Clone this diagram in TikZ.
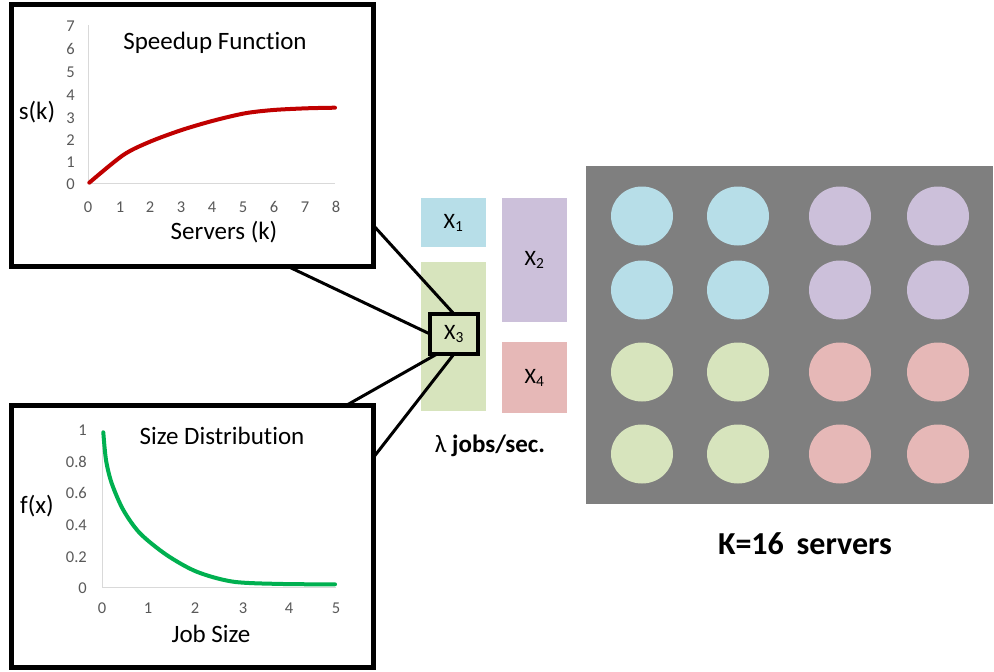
\documentclass[tikz,border=0pt]{standalone}
\usepackage{fontspec}
\setmainfont[Ligatures=NoCommon]{Carlito}
\usetikzlibrary{shapes.geometric}
\definecolor{cblue}{RGB}{183,222,232}
\definecolor{cgreen}{RGB}{215,228,189}
\definecolor{cpurple}{RGB}{204,192,218}
\definecolor{cpink}{RGB}{230,184,183}
\definecolor{cgray}{RGB}{127,127,127}
\definecolor{axisgray}{RGB}{217,217,217}
\definecolor{ticktext}{RGB}{89,89,89}
\definecolor{cred}{RGB}{192,0,0}
\definecolor{cgreenline}{RGB}{0,176,80}
\begin{document}
\begin{tikzpicture}[x=1pt,y=-1pt,
 panel/.style={draw=black, line width=5pt, fill=white, minimum width=362pt, minimum height=262pt, inner sep=0pt, outer sep=0pt},
 ticklbl/.style={text=ticktext, font=\fontsize{16.5}{18}\selectfont, inner sep=0pt},
 axlbl/.style={font=\fontsize{25}{29}\selectfont, inner sep=0pt},
 axisline/.style={draw=axisgray, line width=1pt},
 link/.style={draw=black, line width=3pt},
 jobbox/.style={inner sep=0pt, outer sep=0pt, font=\fontsize{22}{26}\selectfont},
 server/.style={ellipse, minimum width=62pt, minimum height=59pt, inner sep=0pt}
]
\useasboundingbox (0,0) rectangle (994,672);

% ---------- panels ----------
\node[panel] (topbox) at (192,135) {};
\node[panel] (botbox) at (192,536) {};

% ---------- speedup chart ----------
\draw[axisline] (88,25) -- (88,183) -- (335,183);
\foreach \v/\y in {0/184,1/162,2/140,3/118,4/95,5/72,6/49,7/26}
  \node[ticklbl, anchor=east] (sy\v) at (75,\y) {\v};
\foreach \v/\x in {0/88,1/120,2/150,3/181,4/212,5/243,6/274,7/305,8/336}
  \node[ticklbl] (sx\v) at (\x,207) {\v};
\draw[cred, line width=4pt, line cap=round] plot[smooth, tension=0.5] coordinates
  {(89.3,182.7) (123.3,155) (150,141.7) (181.7,130) (213.3,120.7) (245,113.3) (273.3,110) (306.7,108.3) (335,107.7)};
\node[axlbl] (stitle) at (215,43) {Speedup Function};
\node[axlbl] (sylab) at (37,112) {s(k)};
\node[axlbl] (sxlab) at (224,232) {Servers (k)};

% ---------- size distribution chart ----------
\draw[axisline] (102,430) -- (102,587) -- (336,587);
\foreach \v/\y in {1/430,0.8/462,0.6/493,0.4/525,0.2/557,0/588}
  \node[ticklbl, anchor=east] at (87,\y) {\v};
\foreach \v/\x in {0/102,1/148,2/195,3/243,4/289,5/336}
  \node[ticklbl] at (\x,608) {\v};
\draw[cgreenline, line width=4pt, line cap=round] plot[smooth, tension=0.5] coordinates
  {(103.3,432.3) (106,460) (111.7,483.3) (123.3,510) (140,533.3) (166.7,555) (196.7,571.7) (233.3,581.7) (283.3,584) (335,584.3)};
\node[axlbl] (dtitle) at (222,436) {Size Distribution};
\node[axlbl] (dylab) at (37,506) {f(x)};
\node[axlbl] (dxlab) at (211,634) {Job Size};

% ---------- job boxes ----------
\node[jobbox, fill=cblue, minimum width=65pt, minimum height=49pt] (x1) at (453.5,222.5) {X\textsubscript{1}};
\node[jobbox, fill=cgreen, minimum width=65pt, minimum height=149pt] (x3bg) at (453.5,336.5) {};
\node[jobbox, fill=cpurple, minimum width=65pt, minimum height=124pt] (x2) at (534.5,260) {X\textsubscript{2}};
\node[jobbox, fill=cpink, minimum width=65pt, minimum height=71pt] (x4) at (534.5,377.5) {X\textsubscript{4}};
\node[font=\fontsize{25}{29}\selectfont, inner sep=0pt] (rate) at (490,446) {λ \textbf{jobs/sec.}};

% ---------- connectors ----------
\coordinate (x3c) at (454,334);
\node[jobbox, minimum width=48pt, minimum height=40pt] (x3) at (x3c) {};
\draw[link] ([yshift=-90pt]topbox.east) -- (x3.north);
\draw[link] ([xshift=95pt]topbox.south) -- (x3.west);
\draw[link] ([xshift=155pt]botbox.north) -- ([xshift=-17pt]x3.south);
\draw[link] ([yshift=78pt]botbox.east) -- (x3.south);
\node[jobbox, draw=black, line width=4.5pt, fill=cgreen, minimum width=48pt, minimum height=40pt] (x3box) at (x3c) {X\textsubscript{3}};

% ---------- servers ----------
\node[fill=cgray, minimum width=407pt, minimum height=338pt, inner sep=0pt] (rack) at (789.5,335) {};
\foreach \r/\y in {1/216,2/290,3/372,4/454}
  \foreach \c/\x in {1/642,2/738,3/840,4/938}{
    \pgfmathtruncatemacro{\top}{\r<3 ? 1 : 0}
    \pgfmathtruncatemacro{\left}{\c<3 ? 1 : 0}
    \ifnum\top=1
      \ifnum\left=1 \def\sc{cblue}\else\def\sc{cpurple}\fi
    \else
      \ifnum\left=1 \def\sc{cgreen}\else\def\sc{cpink}\fi
    \fi
    \node[server, fill=\sc] (s\r\c) at (\x,\y) {};
  }
\node[font=\fontsize{32}{37}\selectfont\bfseries, inner sep=0pt] (klabel) at (805,544) {K=16\hspace{0.4em}servers};
\end{tikzpicture}
\end{document}
